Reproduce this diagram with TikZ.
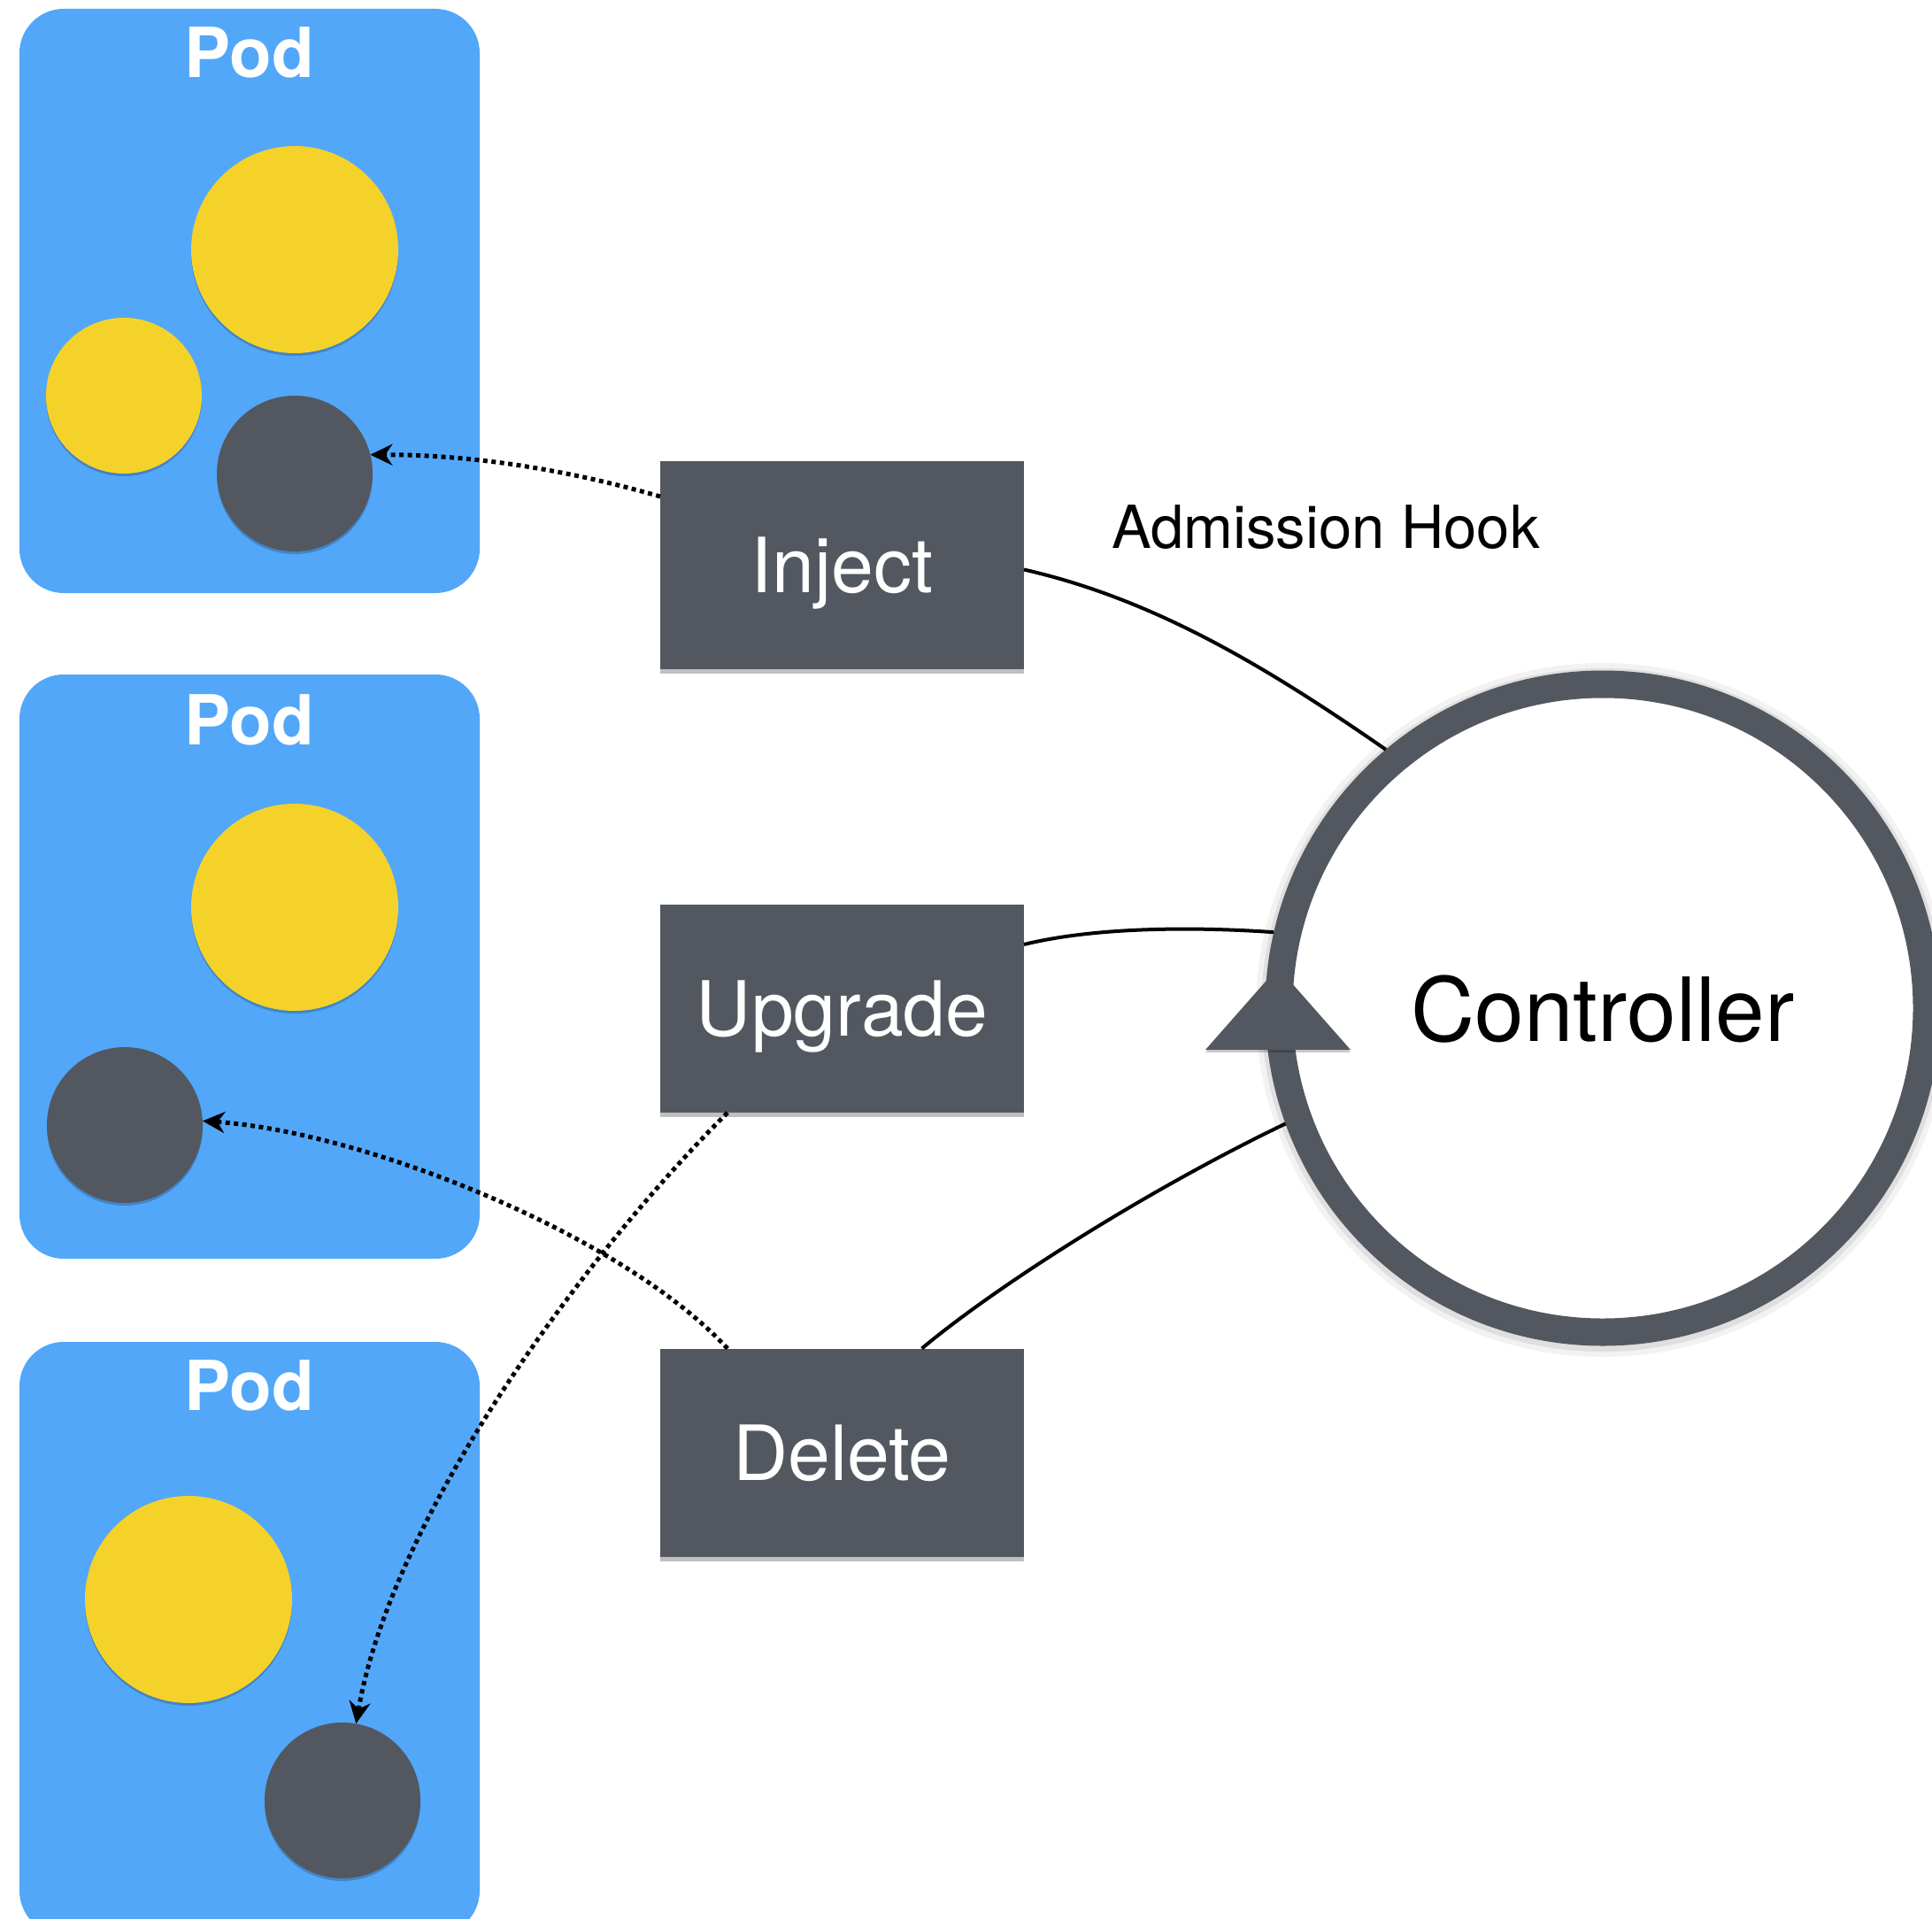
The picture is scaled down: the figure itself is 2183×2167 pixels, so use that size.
\documentclass[tikz,border=0pt]{standalone}
\usepackage{fontspec}
\setmainfont{TeX Gyre Heros}
\usetikzlibrary{shadows,arrows.meta}
\definecolor{podblue}{RGB}{82,167,249}
\definecolor{cyellow}{RGB}{245,210,42}
\definecolor{cdark}{RGB}{83,88,96}
\begin{document}
\begin{tikzpicture}[x=1pt,y=-1pt,
  podbox/.style={rectangle, fill=podblue, rounded corners=50pt, minimum width=520pt, inner sep=0pt, outer sep=0pt},
  podlabel/.style={text=white, font=\fontsize{78}{80}\selectfont\bfseries, anchor=base, inner sep=0pt},
  cshadow/.style={drop shadow={shadow xshift=0pt, shadow yshift=-3pt, opacity=0.2, fill=black}},
  bigc/.style={circle, fill=cyellow, minimum size=234pt, inner sep=0pt, outer sep=0pt, cshadow},
  smallc/.style={circle, fill=cyellow, minimum size=176pt, inner sep=0pt, outer sep=0pt, cshadow},
  darkc/.style={circle, fill=cdark, minimum size=176pt, inner sep=0pt, outer sep=0pt, cshadow},
  actbox/.style={rectangle, fill=cdark, minimum width=411pt, minimum height=235pt, inner sep=0pt, outer sep=0pt,
    text=white, font=\fontsize{86}{90}\selectfont, text height=62pt, text depth=0pt,
    drop shadow={shadow xshift=0pt, shadow yshift=-5pt, opacity=0.25, fill=black}},
  conn/.style={draw=black, line width=4pt},
  dotarrow/.style={draw=black, line width=5pt, dash pattern=on 5pt off 4.5pt,
    -{Stealth[length=25pt, width=24pt, inset=8pt]}}
]
\useasboundingbox (0,0) rectangle (2183,2167);
\fill[white] (0,0) rectangle (2183,2167);

% Pods
\node[podbox, minimum height=660pt] (pod1) at (282,340) {};
\node[podbox, minimum height=660pt] (pod2) at (282,1092) {};
\node[podbox, minimum height=670pt] (pod3) at (282,1851) {};
\node[podlabel] (pl1) at (282,88) {Pod};
\node[podlabel] (pl2) at (282,841) {Pod};
\node[podlabel] (pl3) at (282,1593) {Pod};

\node[bigc] (y1a) at (333,282) {};
\node[smallc] (y1b) at (140,447) {};
\node[darkc] (dk1) at (333,535) {};

\node[bigc] (y2a) at (333,1025) {};
\node[darkc] (dk2) at (141,1271) {};

\node[bigc] (y3a) at (213,1807) {};
\node[darkc] (dk3) at (387,2034) {};

% Action boxes
\node[actbox] (inj) at (951.5,638.5) {Inject};
\node[actbox] (upg) at (951.5,1139.5) {Upgrade};
\node[actbox] (del) at (951.5,1641) {Delete};

% Controller
\node[circle, minimum size=740pt, draw=black, draw opacity=0.05, line width=44pt] (glowa) at (1811,1141) {};
\node[circle, minimum size=736pt, draw=black, draw opacity=0.08, line width=36pt] (glowb) at (1811,1141) {};
\node[circle, minimum size=732pt, draw=cdark, fill=white, line width=31pt, inner sep=0pt,
      font=\fontsize{100}{104}\selectfont, text height=75pt, text depth=0pt] (ctrl) at (1811,1139) {Controller};

\node[anchor=base west, inner sep=0pt, font=\fontsize{67}{70}\selectfont] (adm) at (1256,619) {Admission Hook};

% Solid connectors
\draw[conn] ([yshift=-5pt]inj.east) .. controls +(150,34) and +(-130,-90) .. (ctrl.130);
\draw[conn] ([yshift=-45pt]upg.north east) .. controls +(90,-22) and +(-70,-5) .. (ctrl.167);
\draw[conn] ([xshift=90pt]del.north) .. controls +(90,-75) and +(-150,72) .. (ctrl.200);

% Triangle marker on the controller loop
\fill[cdark, drop shadow={shadow xshift=0pt, shadow yshift=-3pt, opacity=0.2, fill=black}]
  (1362,1186) -- (1526,1186) -- (1444,1093) -- cycle;

% Dotted arrows
\draw[dotarrow] ([yshift=-40pt]inj.north west) .. controls +(-110,-32) and +(110,0) .. (dk1.14);
\draw[dotarrow] ([xshift=76pt]del.north west) .. controls +(-120,-130) and +(180,12) .. (dk2.3);
\draw[dotarrow] ([xshift=76pt]upg.south west) .. controls +(-170,170) and +(40,-230) .. (dk3.80);
\end{tikzpicture}
\end{document}
